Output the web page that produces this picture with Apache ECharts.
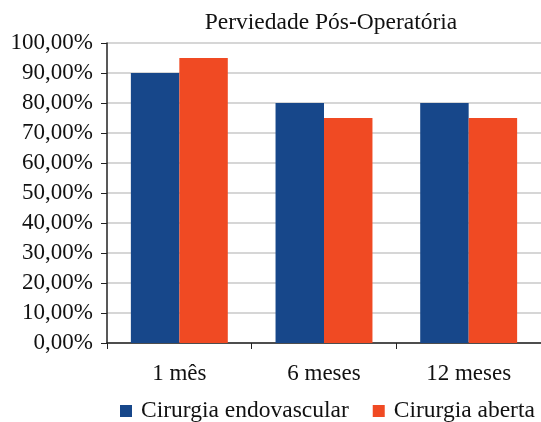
<!DOCTYPE html>
<html><head><meta charset="utf-8">
<script src="https://cdn.jsdelivr.net/npm/echarts@6/dist/echarts.min.js"></script>
<style>html,body{margin:0;padding:0;background:#fff}#c{width:541px;height:422px}</style>
</head><body><div id="c"></div>
<script>
const categories = ['1 mês', '6 meses', '12 meses'];
const endovascular = [90, 80, 80];
const aberta = [95, 75, 75];
const seriesNames = ['Cirurgia endovascular', 'Cirurgia aberta'];
const titleText = 'Perviedade Pós-Operatória';

const font = "'Liberation Serif', 'Times New Roman', serif";
const chart = echarts.init(document.getElementById('c'));
chart.setOption({
  animation: false,
  title: { text: titleText, left: 326, textAlign: 'center', top: 6,
    textStyle: { fontFamily: font, fontSize: 23.5, fontWeight: 'normal', color: '#111' } },
  legend: { data: seriesNames, left: 120, top: 399, width: 421, padding: 0, itemWidth: 12, itemHeight: 12, itemGap: 24,
    icon: 'rect', textStyle: { fontFamily: font, fontSize: 23.5, color: '#111', padding: [0,0,0,4] } },
  grid: { left: 107, top: 43, bottom: 79, width: 439, containLabel: false },
  xAxis: { type: 'category', data: categories,
    axisLine: { lineStyle: { color: '#222', width: 1.5 } },
    axisTick: { show: true, length: 6, lineStyle: { color: '#222' } },
    axisLabel: { fontFamily: font, fontSize: 23, color: '#111', margin: 19 } },
  yAxis: { type: 'value', min: 0, max: 100, interval: 10,
    axisLine: { show: true, lineStyle: { color: '#222', width: 1.5 } },
    axisTick: { show: true, length: 6, lineStyle: { color: '#222' } },
    splitLine: { lineStyle: { color: '#c8c8c8', width: 1.5 } },
    axisLabel: { fontFamily: font, fontSize: 23, color: '#111', margin: 14,
      formatter: v => v.toFixed(2).replace('.', ',') + '%' } },
  series: [
    { name: seriesNames[0], type: 'bar', data: endovascular, barGap: '0%', barCategoryGap: '33%',
      itemStyle: { color: '#17478a' } },
    { name: seriesNames[1], type: 'bar', data: aberta,
      itemStyle: { color: '#f04a23' } }
  ]
});
</script></body></html>
